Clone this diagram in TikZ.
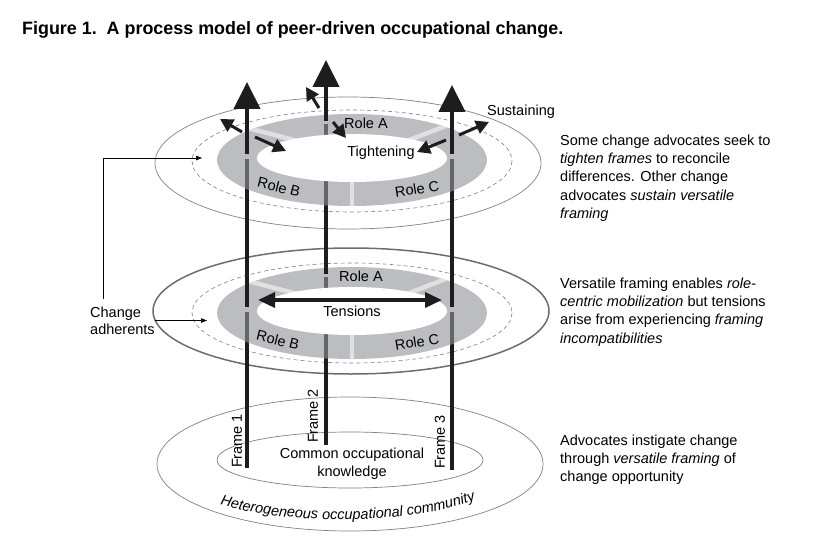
\documentclass[tikz,border=0pt]{standalone}
\usepackage{fontspec}
\setmainfont{Liberation Sans}
\usetikzlibrary{arrows.meta,positioning,calc,decorations.text}
\definecolor{RingGray}{RGB}{188,189,192}
\definecolor{RingLight}{RGB}{223,224,225}
\definecolor{FrameDark}{RGB}{100,101,104}
\definecolor{FrameBlack}{RGB}{30,28,29}
\definecolor{RimGray}{RGB}{128,128,130}

\begin{document}
\begin{tikzpicture}[x=1pt,y=-1pt,
  lbl/.style={inner sep=0pt,font=\fontsize{14.5}{18.3}\selectfont},
  note/.style={lbl,align=left,anchor=north west},
  rim/.style={RimGray,line width=0.7pt},
  rimthick/.style={RimGray!85!black,line width=1.5pt},
  rimdash/.style={RimGray,line width=0.6pt,dash pattern=on 4pt off 3pt},
  frameline/.style={line width=4pt,FrameBlack},
  framearrow/.style={frameline,-{Triangle[length=27pt,width=26pt]}},
  shiftarrow/.style={line width=3pt,FrameBlack,-{Triangle[length=13pt,width=13.5pt]}},
  tensionarrow/.style={line width=3.5pt,FrameBlack,{Triangle[length=17pt,width=15pt]}-{Triangle[length=17pt,width=15pt]}},
  pointer/.style={line width=0.7pt,-{Triangle[length=6pt,width=4.5pt]}}]
\useasboundingbox (0,0) rectangle (829,559);
\node[inner sep=0pt,anchor=west,font=\bfseries\fontsize{17.9}{20}\selectfont] (title) at (22,30) {Figure 1.\ \ A process model of peer-driven occupational change.};

\draw[rim] (350,464) ellipse[x radius=193,y radius=67];
\draw[rim] (350,460) ellipse[x radius=133,y radius=28];
\draw[rimthick] (351,311) ellipse[x radius=198,y radius=63];
\draw[rimdash] (352,313) ellipse[x radius=160,y radius=50];
\draw[rim] (348,163) ellipse[x radius=193,y radius=66];
\draw[rimdash] (352,161) ellipse[x radius=160,y radius=51];

\coordinate (f1b) at (247,468); \coordinate (f1t) at (247,82);
\coordinate (f2b) at (326,445); \coordinate (f2t) at (326,60);
\coordinate (f3b) at (452,470); \coordinate (f3t) at (452,85);
\draw[framearrow] (f1b) -- (f1t);
\draw[framearrow] (f2b) -- (f2t);
\draw[framearrow] (f3b) -- (f3t);

\foreach \cy in {160,313}{
  \fill[RingGray] (352,\cy) ellipse[x radius=135,y radius=46];
  \begin{scope}
    \clip (352,\cy) ellipse[x radius=135,y radius=46];
    \draw[frameline,FrameDark] (247,\cy-1) -- (247,\cy+60);
    \draw[frameline,FrameDark] (452,\cy-1) -- (452,\cy+60);
    \draw[frameline,FrameDark] (326,\cy-36.5) -- (326,\cy+60);
    \draw[RingLight,line width=4.5pt] (240,\cy-34) -- (300,\cy-18.5);
    \draw[RingLight,line width=4.5pt] (400,\cy-16.5) -- (460,\cy-39.5);
    \draw[RingLight,line width=4.5pt] (352,\cy+10) -- (352,\cy+60);
  \end{scope}
  \fill[white] (352,\cy-2) ellipse[x radius=95,y radius=24];
  \draw[frameline] (247,\cy-60) -- (247,\cy-6);
  \draw[frameline] (452,\cy-60) -- (452,\cy-6);
  \draw[frameline] (326,\cy-60) -- (326,\cy-39);
}

\node[lbl] (roleA3) at (366,123) {Role A};
\node[lbl,rotate=-14] (roleB3) at (279,187) {Role B};
\node[lbl,rotate=9] (roleC3) at (417,189) {Role C};
\node[lbl] (tight) at (381,153) {Tightening};
\node[lbl,anchor=west] (sustain) at (487,112) {Sustaining};
\node[lbl] (roleA2) at (361,276) {Role A};
\node[lbl,rotate=-14] (roleB2) at (278,340) {Role B};
\node[lbl,rotate=9] (roleC2) at (417,342) {Role C};
\node[lbl] (tension) at (352,311) {Tensions};

\coordinate (tl0) at (255,137); \coordinate (tl1) at (286,151);
\coordinate (tm0) at (333,122); \coordinate (tm1) at (346,138);
\coordinate (tr0) at (446,140); \coordinate (tr1) at (417,152);
\coordinate (sl0) at (242,132); \coordinate (sl1) at (220,119);
\coordinate (sm0) at (319,108); \coordinate (sm1) at (306,87);
\coordinate (sr0) at (459,135); \coordinate (sr1) at (489,122);
\draw[shiftarrow] (tl0) -- (tl1);
\draw[shiftarrow] (tm0) -- (tm1);
\draw[shiftarrow] (tr0) -- (tr1);
\draw[shiftarrow] (sl0) -- (sl1);
\draw[shiftarrow] (sm0) -- (sm1);
\draw[shiftarrow] (sr0) -- (sr1);
\coordinate (tensL) at (258,300); \coordinate (tensR) at (442,300);
\draw[tensionarrow] (tensL) -- (tensR);

\node[lbl,rotate=90] (frame1) at (237,441) {Frame 1};
\node[lbl,rotate=90] (frame2) at (313,416) {Frame 2};
\node[lbl,rotate=90] (frame3) at (440,442) {Frame 3};
\node[lbl,align=center] (common) at (352,464) {Common occupational\\knowledge};
\path[decorate,decoration={text along path,text align=center,
  text={|\fontsize{14.5}{17}\selectfont\itshape|Heterogeneous occupational community}}]
  (205,500) .. controls (280,527) and (420,527) .. (490,494);

\node[lbl,align=left,anchor=north west,font=\fontsize{14.5}{17}\selectfont] (adherents) at (90,306.5) {Change\\adherents};
\coordinate (upTgt) at (202,158);
\coordinate (lowTgt) at (207,322);
\draw[pointer] ([xshift=13pt,yshift=8pt]adherents.north west) |- (upTgt);
\draw[pointer] (adherents.east) -- (adherents.east -| lowTgt);

\node[note] (note3) at (560,134.6) {Some change advocates seek to\\\textit{tighten frames} to reconcile\\differences. Other change\\advocates \textit{sustain versatile}\\\textit{framing}};
\node[note] (note2) at (560,277.6) {Versatile framing enables \textit{role-}\\\textit{centric mobilization} but tensions\\arise from experiencing \textit{framing}\\\textit{incompatibilities}};
\node[note] (note1) at (560,434.6) {Advocates instigate change\\through \textit{versatile framing} of\\change opportunity};
\end{tikzpicture}
\end{document}
